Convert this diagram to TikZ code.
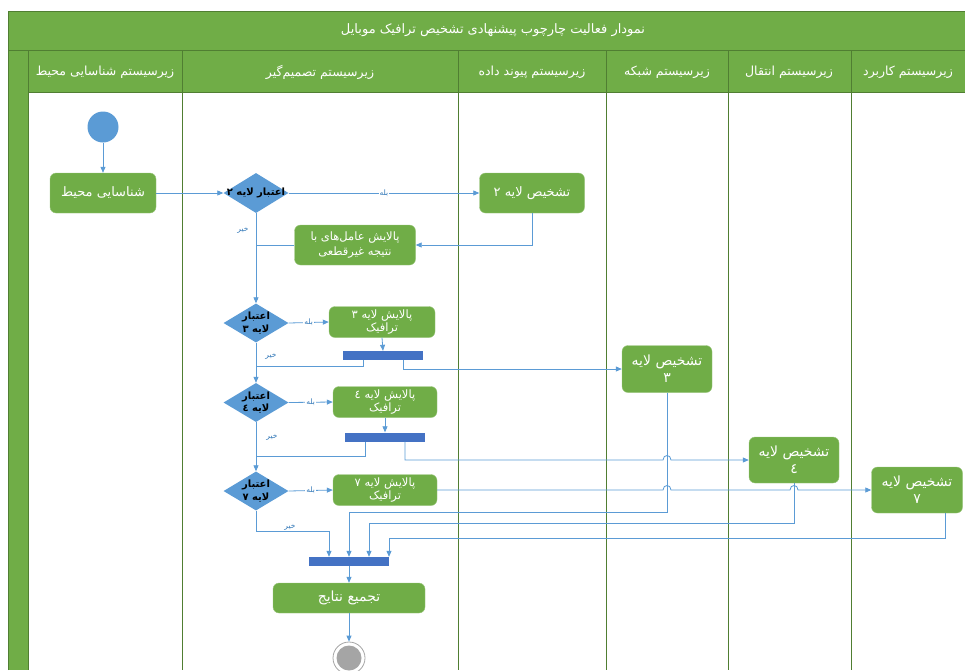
\documentclass[tikz,border=0pt]{standalone}
\usepackage{fontspec}
\newfontfamily\arabicfont[Script=Arabic]{DejaVu Sans}
\TeXXeTstate=1
\usetikzlibrary{shapes.geometric,arrows.meta,calc}
\newcommand{\fa}[1]{{\arabicfont\beginR #1\endR}}
\definecolor{lgreen}{HTML}{70AD47}
\definecolor{dgreen}{HTML}{507E32}
\definecolor{lblue}{HTML}{5B9BD5}
\definecolor{dblue}{HTML}{4472C4}
\definecolor{egray}{HTML}{A5A5A5}
\definecolor{lbltext}{HTML}{2E75B6}
\begin{document}
\begin{tikzpicture}[x=1pt,y=-1pt,
  act/.style={rounded corners=6pt, fill=lgreen, draw=lgreen!70!white, text=white,
    font=\fontsize{13}{15}\selectfont, align=center, inner sep=0pt},
  act2/.style={act, font=\fontsize{11.5}{13}\selectfont},
  act3/.style={act, font=\fontsize{14}{17}\selectfont},
  dec/.style={diamond, fill=lblue, inner sep=0pt, minimum width=65pt, minimum height=39pt},
  dectext/.style={font=\bfseries\fontsize{10}{12.5}\selectfont, align=center, text=black},
  barnode/.style={fill=dblue, inner sep=0pt, minimum width=80pt, minimum height=9pt},
  conn/.style={draw=lblue, line width=0.8pt},
  arr/.style={conn, -{Triangle[length=6pt,width=5pt]}},
  lbl/.style={font=\fontsize{7.5}{9}\selectfont, text=lbltext, inner sep=1pt},
  lanehead/.style={text=white, font=\fontsize{12.5}{14}\selectfont},
  laneline/.style={draw=dgreen, line width=0.9pt}]
\useasboundingbox (0,0) rectangle (965,670);
% frame
\fill[lgreen] (8,11) rectangle (965,92);
\fill[lgreen] (8,92) rectangle (28,670);
\draw[laneline] (8,670) -- (8,11) -- (965,11);
\draw[laneline] (8,50) -- (965,50);
\draw[laneline] (28,92) -- (965,92);
\foreach \x in {28,182,458,606,728,851} \draw[laneline] (\x,50) -- (\x,670);
\node[text=white, font=\fontsize{13}{15}\selectfont] (title) at (493,30) {\fa{نمودار فعالیت چارچوب پیشنهادی تشخیص ترافیک موبایل}};
\node[lanehead] (h1) at (105,72) {\fa{زیرسیستم شناسایی محیط}};
\node[lanehead] (h2) at (320,72) {\fa{زیرسیستم تصمیم‌گیر}};
\node[lanehead] (h3) at (532,72) {\fa{زیرسیستم پیوند داده}};
\node[lanehead] (h4) at (667,72) {\fa{زیرسیستم شبکه}};
\node[lanehead] (h5) at (789,72) {\fa{زیرسیستم انتقال}};
\node[lanehead] (h6) at (908,72) {\fa{زیرسیستم کاربرد}};
% nodes
\node[circle, fill=lblue, minimum size=31pt, inner sep=0pt] (start) at (103,127) {};
\node[act, minimum width=106pt, minimum height=40pt] (env) at (103,193) {\fa{شناسایی محیط}};
\node[dec, minimum height=40pt] (d2) at (256,193) {};
\node[dectext] at (d2.center) {\fa{اعتبار لایه ۲}};
\node[act, minimum width=105pt, minimum height=40pt] (t2) at (532,193) {\fa{تشخیص لایه ۲}};
\node[act2, minimum width=121pt, minimum height=40pt, font=\fontsize{11.5}{15}\selectfont] (pal) at (355,245) {\fa{پالایش عامل‌های با}\\\fa{نتیجه غیرقطعی}};
\node[dec] (d3) at (256,323) {};
\node[dectext] at (d3.center) {\fa{اعتبار}\\\fa{لایه ۳}};
\node[act2, minimum width=106pt, minimum height=31pt] (p3) at (382,322) {\fa{پالایش لایه ۳}\\\fa{ترافیک}};
\node[barnode] (bar1) at (383,355.5) {};
\node[act3, minimum width=90pt, minimum height=47pt] (t3) at (667,369) {\fa{تشخیص لایه}\\\fa{۳}};
\node[dec] (d4) at (256,402.5) {};
\node[dectext] at (d4.center) {\fa{اعتبار}\\\fa{لایه ٤}};
\node[act2, minimum width=104pt, minimum height=31pt] (p4) at (385,402) {\fa{پالایش لایه ٤}\\\fa{ترافیک}};
\node[barnode] (bar2) at (385,437) {};
\node[act3, minimum width=90pt, minimum height=46pt] (t4) at (794,460) {\fa{تشخیص لایه}\\\fa{٤}};
\node[dec] (d7) at (256,491) {};
\node[dectext] at (d7.center) {\fa{اعتبار}\\\fa{لایه ۷}};
\node[act2, minimum width=104pt, minimum height=31pt] (p7) at (385,490) {\fa{پالایش لایه ۷}\\\fa{ترافیک}};
\node[act3, minimum width=91pt, minimum height=46pt] (t7) at (917,490) {\fa{تشخیص لایه}\\\fa{۷}};
\node[barnode] (bar3) at (349,561.5) {};
\node[act, minimum width=152pt, minimum height=30pt, font=\fontsize{14}{16}\selectfont] (agg) at (349,598) {\fa{تجمیع نتایج}};
\node[circle, draw=egray, fill=white, line width=0.8pt, minimum size=32pt, inner sep=0pt] (end) at (349,658) {};
\node[circle, fill=egray, minimum size=25pt, inner sep=0pt] (endin) at (end.center) {};
% join points
\coordinate (j1) at (256,366);
\coordinate (j2) at (256,456);
\coordinate (j0) at (256,245);
% connectors
\draw[arr] (start.south) -- (env.north);
\draw[arr] (env.east) -- (d2.west);
\draw[arr] (d2.east) -- node[lbl, fill=white, pos=0.5] {\fa{بله}} (t2.west);
\draw[arr] (t2.south) |- (pal.east);
\draw[conn] (pal.west) -- (j0);
\draw[arr] (d2.south) -- (d3.north);
\node[lbl] at (243,230) {\fa{خیر}};
\draw[arr] (d3.east) -- node[lbl, fill=white] {\fa{بله}} (p3.west);
\draw[arr] (p3.south) -- (bar1.north);
\draw[conn] ($(bar1.south)+(-20,0)$) |- (j1);
\draw[arr] ($(bar1.south)+(20,0)$) |- (t3.west);
\draw[arr] (d3.south) -- (d4.north);
\node[lbl] at (271,356) {\fa{خیر}};
\draw[arr] (d4.east) -- node[lbl, fill=white] {\fa{بله}} (p4.west);
\draw[arr] (p4.south) -- (bar2.north);
\draw[conn] ($(bar2.south)+(-20,0)$) |- (j2);
\draw[arr] ($(bar2.south)+(20,0)$) |- ($(t3.south |- t4.west)+(-4,0)$)
   .. controls +(0,-6) and +(0,-6) .. ($(t3.south |- t4.west)+(4,0)$) -- (t4.west);
\draw[arr] (d4.south) -- (d7.north);
\node[lbl] at (272,437) {\fa{خیر}};
\draw[arr] (d7.east) -- node[lbl, fill=white] {\fa{بله}} (p7.west);
\draw[arr] (p7.east) -- ($(t3.south |- p7.east)+(-4,0)$)
   .. controls +(0,-6) and +(0,-6) .. ($(t3.south |- p7.east)+(4,0)$)
   -- ($(t4.south |- p7.east)+(-4,0)$)
   .. controls +(0,-6) and +(0,-6) .. ($(t4.south |- p7.east)+(4,0)$) -- (t7.west);
\draw[arr] (d7.south) |- ($(bar3.north)+(-20,-25)$) -- ($(bar3.north)+(-20,0)$);
\node[lbl] at (290,527) {\fa{خیر}};
\draw[arr] (t3.south) |- ($(bar3.north)+(0,-44)$) -- (bar3.north);
\draw[arr] (t4.south) |- ($(bar3.north)+(20,-33)$) -- ($(bar3.north)+(20,0)$);
\draw[arr] ($(t7.south)+(28,0)$) |- ($(bar3.north)+(40,-18)$) -- ($(bar3.north)+(40,0)$);
\draw[arr] (bar3.south) -- (agg.north);
\draw[arr] (agg.south) -- (end.north);
\end{tikzpicture}
\end{document}
